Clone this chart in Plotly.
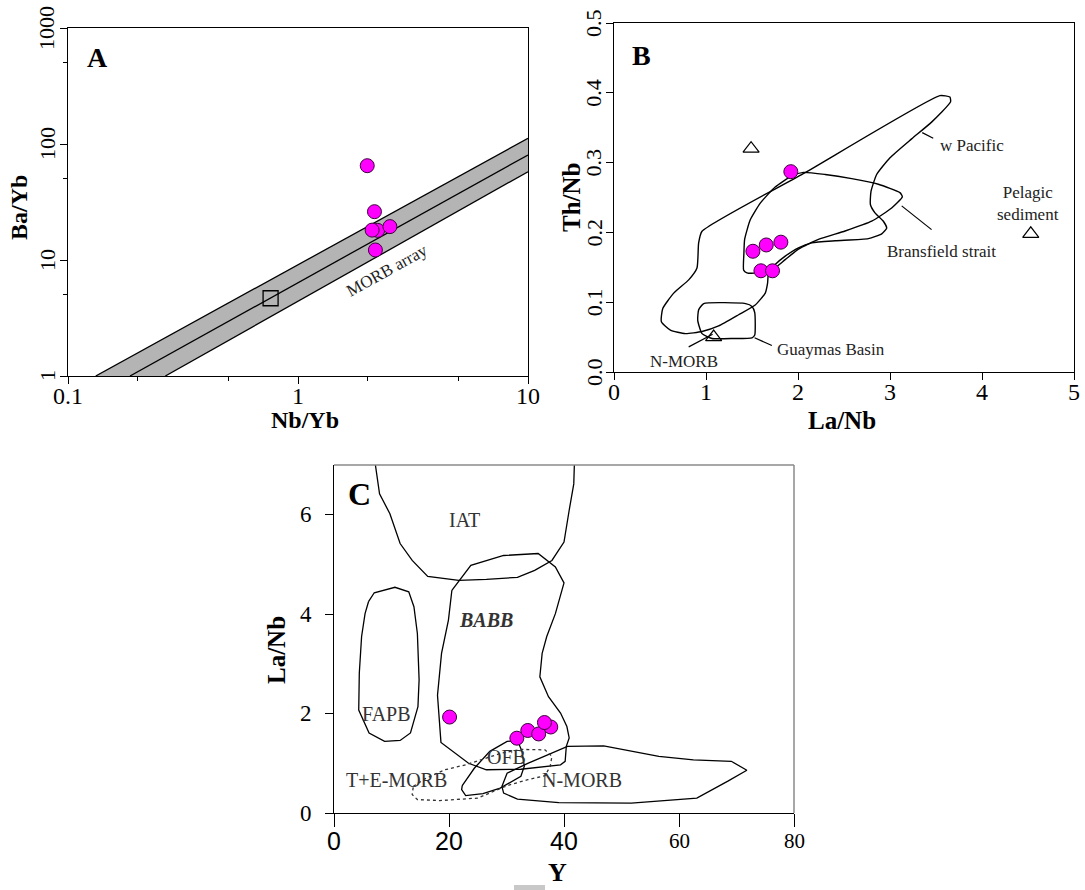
import math
import plotly.graph_objects as go

W, H = 1085, 890
SERIF = "Liberation Serif"
SANS = "Liberation Sans"

# ---------------- Panel A data ----------------
a_nbyb = [2.22, 2.00, 2.15, 2.10, 2.51, 2.17]
a_bayb = [18.0, 65.0, 26.1, 18.1, 19.4, 12.2]
a_nmorb_nbyb = [0.76]
a_nmorb_bayb = [4.68]
a_band_upper_x = [0.132, 10]
a_band_upper_y = [1, 112]
a_band_mid_x = [0.186, 10]
a_band_mid_y = [1, 80.4]
a_band_lower_x = [0.265, 10]
a_band_lower_y = [1, 57.7]
a_xtickvals = [0.1, 1, 10]
a_xticktext = ["0.1", "1", "10"]
a_ytickvals = [1, 10, 100, 1000]
a_yticktext = ["1", "10", "100", "1000"]
a_xminor = [0.2, 0.5, 2, 5]
a_yminor = [5, 50, 500]
a_label_pos = (2.43, 8.2)

# ---------------- Panel B data ----------------
b_lanb = [1.922, 1.51, 1.655, 1.814, 1.597, 1.723]
b_thnb = [0.287, 0.173, 0.182, 0.186, 0.145, 0.145]
b_tri_lanb = [1.49, 4.53, 1.083]
b_tri_thnb = [0.320, 0.198, 0.050]

b_wpac_x = [0.957, 2.078, 3.542, 3.651, 3.658, 3.452, 3.235, 3.0, 2.855, 2.794, 2.787,
            2.837, 2.928, 2.964, 2.910, 2.765, 2.403, 2.150, 2.005, 1.861, 1.752, 1.680,
            1.669, 1.644, 1.535, 1.354, 1.137, 0.957, 0.776, 0.613, 0.515, 0.530, 0.649,
            0.812, 0.902, 0.920, 0.957]
b_wpac_y = [0.2016, 0.2857, 0.396, 0.394, 0.387, 0.358, 0.334, 0.307, 0.283, 0.259, 0.240,
            0.228, 0.216, 0.206, 0.198, 0.191, 0.188, 0.185, 0.178, 0.166, 0.154, 0.142,
            0.127, 0.113, 0.096, 0.082, 0.066, 0.058, 0.055, 0.060, 0.072, 0.091, 0.113,
            0.132, 0.149, 0.185, 0.2016]
b_bran_x = [1.412, 1.409, 1.445, 1.571, 1.716, 1.861, 2.005, 2.222, 2.512, 2.801, 3.018,
            3.134, 3.108, 2.873, 2.584, 2.295, 2.06, 1.933, 1.752, 1.590, 1.481, 1.420, 1.412]
b_bran_y = [0.170, 0.146, 0.142, 0.142, 0.146, 0.161, 0.176, 0.190, 0.202, 0.216, 0.235,
            0.251, 0.257, 0.269, 0.277, 0.283, 0.286, 0.281, 0.265, 0.242, 0.218, 0.190, 0.170]
b_guay_x = [0.975, 1.43, 1.50, 1.53, 1.53, 1.50, 1.30, 1.065, 0.957, 0.91, 0.92, 0.975]
b_guay_y = [0.098, 0.098, 0.094, 0.085, 0.053, 0.049, 0.048, 0.048, 0.055, 0.074, 0.089, 0.098]

b_ptr_wpac = ([3.35, 3.47], [0.343, 0.335])
b_ptr_bran = ([3.127, 3.452], [0.238, 0.204])
b_ptr_guay = ([1.528, 1.716], [0.049, 0.038])
b_ptr_nmorb = ([0.812, 1.072], [0.036, 0.054])

b_labels = [
    ("w Pacific", 3.52, 0.324, "left"),
    ("Bransfield strait", 3.56, 0.173, "center"),
    ("Guaymas Basin", 2.36, 0.032, "center"),
    ("N-MORB", 0.758, 0.015, "center"),
    ("Pelagic<br>sediment", 4.50, 0.242, "center"),
]
b_xtickvals = [0, 1, 2, 3, 4, 5]
b_xticktext = ["0", "1", "2", "3", "4", "5"]
b_ytickvals = [0.0, 0.1, 0.2, 0.3, 0.4, 0.5]
b_yticktext = ["0.0", "0.1", "0.2", "0.3", "0.4", "0.5"]

# ---------------- Panel C data ----------------
c_y = [20.1, 31.8, 33.7, 35.6, 37.7, 36.6]
c_lanb = [1.93, 1.505, 1.66, 1.59, 1.73, 1.82]

c_iat_x = [7.2, 7.92, 9.72, 11.5, 13.6, 16.3, 21.7, 26.5, 31.9, 34.9, 37.9, 40.0, 40.9, 41.7, 41.8]
c_iat_y = [7.0, 6.42, 6.02, 5.42, 5.08, 4.76, 4.68, 4.70, 4.74, 4.88, 5.08, 5.45, 6.09, 6.62, 7.0]
c_babb_x = [20.5, 23.8, 29.5, 35.5, 38.5, 40.0, 38.5, 37.0, 36.2, 35.8, 37.3, 39.4, 40.5, 40.9,
            40.4, 40.2, 39.4, 32.5, 26.5, 23.4, 18.6, 18.0, 18.7, 19.9, 20.5]
c_babb_y = [4.48, 4.98, 5.18, 5.22, 4.95, 4.63, 4.01, 3.55, 3.21, 2.74, 2.34, 2.01, 1.74, 1.51,
            1.34, 1.04, 0.97, 0.88, 0.87, 1.00, 1.42, 2.37, 3.21, 3.88, 4.48]
c_fapb_x = [6.0, 7.0, 10.6, 13.0, 13.9, 14.5, 14.8, 14.6, 13.3, 11.5, 8.8, 6.1, 4.3, 4.4, 4.8, 5.4, 6.0]
c_fapb_y = [4.25, 4.43, 4.54, 4.45, 4.15, 3.61, 2.68, 2.14, 1.61, 1.46, 1.44, 1.61, 2.07, 2.81, 3.55, 4.01, 4.25]
c_ofb_x = [22.3, 24.4, 27.1, 30.1, 31.9, 32.7, 33.1, 32.5, 28.9, 25.9, 22.9, 22.2, 22.3]
c_ofb_y = [0.55, 0.90, 1.24, 1.44, 1.46, 1.24, 0.94, 0.74, 0.50, 0.39, 0.35, 0.47, 0.55]
c_nmorb_x = [29.2, 30.1, 33.7, 37.3, 40.6, 46.9, 56.5, 62.5, 69.1, 71.8, 68.5, 63.1, 51.7, 39.1, 31.9, 29.5, 29.2]
c_nmorb_y = [0.535, 0.80, 1.00, 1.17, 1.34, 1.35, 1.14, 1.07, 1.04, 0.86, 0.64, 0.30, 0.20, 0.21, 0.28, 0.40, 0.535]
c_temorb_x = [13.8, 15.7, 19.3, 22.9, 25.3, 29.0, 32.5, 36.7, 37.9, 37.6, 36.7, 33.7, 30.1, 27.1, 25.0, 18.4, 14.5, 13.6, 13.8]
c_temorb_y = [0.535, 0.68, 0.87, 0.97, 1.06, 1.20, 1.28, 1.27, 1.14, 0.94, 0.75, 0.67, 0.55, 0.40, 0.30, 0.25, 0.27, 0.37, 0.535]

c_labels = [
    ("IAT", 22.7, 5.89),
    ("<b><i>BABB</i></b>", 26.5, 3.88),
    ("FAPB", 9.1, 1.99),
    ("OFB", 30.0, 1.12),
    ("T+E-MORB", 10.8, 0.67),
    ("N-MORB", 43.2, 0.66),
]
c_xtickvals = [0, 20, 40, 60, 80]
c_xticktext = ["0", "20", "40", "60", "80"]
c_xtickfont = [SANS, SANS, SANS, SERIF, SERIF]
c_xticksize = [25, 25, 25, 21, 21]
c_ytickvals = [0, 2, 4, 6]
c_yticktext = ["0", "2", "4", "6"]

# ---------------- helpers ----------------
def dom_x(l, r):
    return [l / W, r / W]


def dom_y(t, b):
    return [1 - b / H, 1 - t / H]


PINK = dict(size=14, color="#ff00ff", line=dict(color="#3c003c", width=1))
LINE = dict(color="black", width=1.3)

fig = go.Figure()

# Panel A
fig.add_trace(go.Scatter(
    x=a_band_upper_x + a_band_lower_x[::-1], y=a_band_upper_y + a_band_lower_y[::-1],
    fill="toself", fillcolor="#b4b4b4", line=dict(width=0), mode="lines",
    xaxis="x", yaxis="y", hoverinfo="skip"))
for bx, by in [(a_band_upper_x, a_band_upper_y), (a_band_mid_x, a_band_mid_y),
               (a_band_lower_x, a_band_lower_y)]:
    fig.add_trace(go.Scatter(x=bx, y=by, mode="lines", line=LINE, xaxis="x", yaxis="y"))
fig.add_trace(go.Scatter(x=a_nmorb_nbyb, y=a_nmorb_bayb, mode="markers",
                         marker=dict(symbol="square-open", size=15, color="black",
                                     line=dict(width=1.3)),
                         xaxis="x", yaxis="y"))
fig.add_trace(go.Scatter(x=a_nbyb, y=a_bayb, mode="markers", marker=PINK,
                         xaxis="x", yaxis="y"))

# Panel B
for px, py in [(b_wpac_x, b_wpac_y), (b_bran_x, b_bran_y), (b_guay_x, b_guay_y)]:
    fig.add_trace(go.Scatter(x=px, y=py, mode="lines",
                             line=dict(color="black", width=1.4, shape="spline", smoothing=0.5),
                             xaxis="x2", yaxis="y2"))
for px, py in [b_ptr_wpac, b_ptr_bran, b_ptr_guay, b_ptr_nmorb]:
    fig.add_trace(go.Scatter(x=px, y=py, mode="lines", line=dict(color="black", width=1.2),
                             xaxis="x2", yaxis="y2"))
fig.add_trace(go.Scatter(x=b_tri_lanb, y=b_tri_thnb, mode="markers",
                         marker=dict(symbol="triangle-up-open", size=14, color="black",
                                     line=dict(width=1.2)),
                         xaxis="x2", yaxis="y2"))
fig.add_trace(go.Scatter(x=b_lanb, y=b_thnb, mode="markers", marker=PINK,
                         xaxis="x2", yaxis="y2"))

# Panel C
for px, py in [(c_iat_x, c_iat_y), (c_babb_x, c_babb_y), (c_fapb_x, c_fapb_y),
               (c_ofb_x, c_ofb_y), (c_nmorb_x, c_nmorb_y)]:
    fig.add_trace(go.Scatter(x=px, y=py, mode="lines", line=dict(color="black", width=1.3),
                             xaxis="x3", yaxis="y3"))
fig.add_trace(go.Scatter(x=c_temorb_x, y=c_temorb_y, mode="lines",
                         line=dict(color="#333333", width=1.3, dash="dot"),
                         xaxis="x3", yaxis="y3"))
fig.add_trace(go.Scatter(x=c_y, y=c_lanb, mode="markers", marker=PINK,
                         xaxis="x3", yaxis="y3"))

# axes (tick marks from the axes, labels drawn as serif text at the tick values)
common = dict(showgrid=False, zeroline=False, showline=True, linecolor="black",
              linewidth=1.3, ticks="outside", ticklen=7, tickwidth=1.2, tickcolor="black",
              showticklabels=False, tickmode="array")

fig.update_layout(
    width=W, height=H, margin=dict(l=0, r=0, t=0, b=0),
    font=dict(family=SERIF, size=22, color="black"),
    paper_bgcolor="white", plot_bgcolor="white", showlegend=False, hovermode=False,
    xaxis=dict(domain=dom_x(68, 528), anchor="y", type="log", range=[-1, 1],
               tickvals=a_xtickvals, mirror=True,
               minor=dict(tickvals=a_xminor, ticks="outside", ticklen=4, tickcolor="black"),
               **common),
    yaxis=dict(domain=dom_y(28, 376), anchor="x", type="log", range=[0, 3],
               tickvals=a_ytickvals, mirror=True,
               minor=dict(tickvals=a_yminor, ticks="outside", ticklen=4, tickcolor="black"),
               **common),
    xaxis2=dict(domain=dom_x(614, 1074), anchor="y2", range=[0, 5],
                tickvals=b_xtickvals, mirror=True, **common),
    yaxis2=dict(domain=dom_y(23, 372), anchor="x2", range=[0, 0.5],
                tickvals=b_ytickvals, mirror=True, **common),
    xaxis3=dict(domain=dom_x(334, 794), anchor="y3", range=[0, 80],
                tickvals=c_xtickvals, **{**common, "ticklen": 13}),
    yaxis3=dict(domain=dom_y(465, 813), anchor="x3", range=[0, 7],
                tickvals=c_ytickvals, **{**common, "ticklen": 8}),
)

ann = []


def tick_label(text, x, y, xref, yref, size, family=SERIF, angle=0, xshift=0, yshift=0,
               xanchor="center", yanchor="middle"):
    ann.append(dict(text=text, x=x, y=y, xref=xref, yref=yref, showarrow=False,
                    textangle=angle, xshift=xshift, yshift=yshift,
                    xanchor=xanchor, yanchor=yanchor,
                    font=dict(family=family, size=size, color="black")))


for v, t in zip(a_xtickvals, a_xticktext):
    tick_label(t, math.log10(v), 0, "x", "y domain", 24, yshift=-20)
for v, t in zip(a_ytickvals, a_yticktext):
    tick_label(t, 0, math.log10(v), "x domain", "y", 22, angle=-90, xshift=-21)
for v, t in zip(b_xtickvals, b_xticktext):
    tick_label(t, v, 0, "x2", "y2 domain", 24, yshift=-20)
for v, t in zip(b_ytickvals, b_yticktext):
    tick_label(t, 0, v, "x2 domain", "y2", 22, angle=-90, xshift=-20)
for v, t, f, s in zip(c_xtickvals, c_xticktext, c_xtickfont, c_xticksize):
    tick_label(t, v, 0, "x3", "y3 domain", s, family=f, yshift=-28)
for v, t in zip(c_ytickvals, c_yticktext):
    tick_label(t, 0, v, "x3 domain", "y3", 23, xshift=-20, xanchor="right")

# panel letters
for t, x, y, s in [("A", 97, 57, 28), ("B", 641, 55, 28), ("C", 359, 494, 32)]:
    ann.append(dict(text="<b>%s</b>" % t, x=x / W, y=1 - y / H, xref="paper", yref="paper",
                    showarrow=False, font=dict(family=SERIF, size=s, color="black"),
                    xanchor="center", yanchor="middle"))
# axis titles
for t, x, y, ang, s in [("Ba/Yb", 19, 208, -90, 24), ("Nb/Yb", 305, 420, 0, 24),
                        ("Th/Nb", 571, 198, -90, 25), ("La/Nb", 842, 420, 0, 25),
                        ("La/Nb", 276, 650, -90, 25), ("Y", 557, 872, 0, 26)]:
    ann.append(dict(text="<b>%s</b>" % t, x=x / W, y=1 - y / H, xref="paper", yref="paper",
                    showarrow=False, textangle=ang, font=dict(family=SERIF, size=s, color="black"),
                    xanchor="center", yanchor="middle"))
# MORB array label
ann.append(dict(text="MORB array", x=math.log10(a_label_pos[0]), y=math.log10(a_label_pos[1]),
                xref="x", yref="y", showarrow=False, textangle=-29,
                font=dict(family=SERIF, size=17, color="#222222")))
for t, x, y, anc in b_labels:
    ann.append(dict(text=t, x=x, y=y, xref="x2", yref="y2", showarrow=False, xanchor=anc,
                    font=dict(family=SERIF, size=17, color="#222222")))
for t, x, y in c_labels:
    ann.append(dict(text=t, x=x, y=y, xref="x3", yref="y3", showarrow=False,
                    font=dict(family=SERIF, size=20, color="#333333")))
fig.update_layout(annotations=ann)

fig.update_layout(shapes=[
    dict(type="line", xref="x3 domain", yref="y3 domain", x0=0, x1=1, y0=1, y1=1,
         line=dict(color="#8a8a8a", width=1.5)),
    dict(type="line", xref="x3 domain", yref="y3 domain", x0=1, x1=1, y0=0, y1=1,
         line=dict(color="#8a8a8a", width=1.5)),
    dict(type="rect", xref="paper", yref="paper", x0=514 / W, x1=545 / W,
         y0=1 - 890 / H, y1=1 - 885 / H, fillcolor="#c8c8c8", line=dict(width=0)),
])

fig.write_html("out.html", config={"displayModeBar": False},
               post_script="document.body.style.margin='0';")
